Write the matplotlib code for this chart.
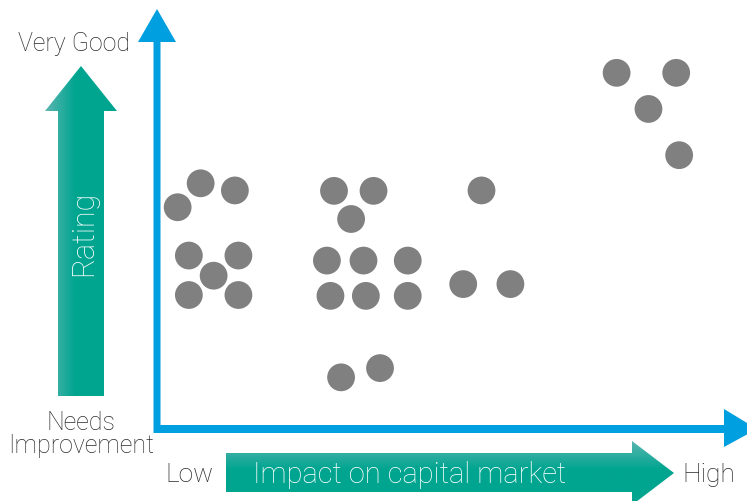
import numpy as np
import matplotlib
matplotlib.use("Agg")
import matplotlib.pyplot as plt
from matplotlib.patches import Polygon
from matplotlib.colors import LinearSegmentedColormap

plt.rcParams['font.family'] = ['Roboto', 'Liberation Sans', 'DejaVu Sans']

# Companies: impact on capital market (x, 0-10) vs rating (y, 0-10)
impact = [0.74, 1.32, 0.35, 0.54, 1.38, 0.96, 0.54, 1.38,
          3.00, 3.67, 3.29, 2.88, 3.50, 4.25, 2.94, 3.54, 4.25,
          3.12, 3.78,
          5.50, 5.19, 5.99,
          7.79, 8.80, 8.33, 8.85]
rating = [5.85, 5.68, 5.28, 4.13, 4.13, 3.65, 3.19, 3.19,
          5.67, 5.67, 5.00, 4.01, 4.01, 4.01, 3.17, 3.17, 3.17,
          1.23, 1.45,
          5.68, 3.45, 3.45,
          8.48, 8.48, 7.62, 6.52]

y_top_label = "Very Good"
y_bottom_label = "Needs\nImprovement"
x_left_label = "Low"
x_right_label = "High"
x_title = "Impact on capital market"
y_title = "Rating"

BLUE = "#009FDF"
TEAL = "#00A590"
TEAL_LIGHT = "#5DB6B1"
TEXT = "#2a2a2a"

W, H = 747, 502
fig = plt.figure(figsize=(W / 100, H / 100), dpi=100)

# Decoration layer in pixel coordinates
deco = fig.add_axes([0, 0, 1, 1])
deco.set_xlim(0, W)
deco.set_ylim(H, 0)
deco.axis('off')


def gradient_arrow(ax, verts, extent, horizontal_grad, stop):
    poly = Polygon(verts, closed=True, facecolor='none', edgecolor='none')
    ax.add_patch(poly)
    cmap = LinearSegmentedColormap.from_list(
        'tealgrad', [(0, TEAL_LIGHT), (stop, TEAL), (1, TEAL)])
    g = np.linspace(0, 1, 256)
    if horizontal_grad:
        img = g[np.newaxis, :]
    else:
        img = g[:, np.newaxis]
    im = ax.imshow(img, cmap=cmap, extent=extent, aspect='auto',
                   origin='upper', interpolation='bilinear', zorder=1)
    im.set_clip_path(poly)


# Vertical "Rating" arrow
v_verts = [(58, 397), (104, 397), (104, 112), (117, 112), (81, 67),
           (45, 112), (58, 112)]
gradient_arrow(deco, v_verts, (45, 117, 397, 67), True, 0.42)

# Horizontal "Impact" arrow
h_verts = [(226, 454), (226, 493), (632, 493), (632, 506), (674, 474),
           (632, 442), (632, 454)]
gradient_arrow(deco, h_verts, (226, 674, 506, 441), False, 0.45)
deco.set_xlim(0, W)
deco.set_ylim(H, 0)

# Blue axes with arrowheads
deco.add_patch(Polygon([(153.5, 43), (160.5, 43), (160.5, 426), (724, 426),
                        (724, 410), (757, 430), (724, 448), (724, 434),
                        (153.5, 434)],
                       closed=True, facecolor=BLUE, edgecolor='none', zorder=2))
deco.add_patch(Polygon([(138, 43), (176, 43), (157, 10)], closed=True,
                       facecolor=BLUE, edgecolor='none', zorder=2))

# Labels
lw = 'light'
deco.text(74, 51, y_top_label, ha='center', va='baseline', fontsize=18,
          color=TEXT, fontweight=lw)
deco.text(81, 453, y_bottom_label, ha='center', va='baseline', fontsize=18,
          color=TEXT, linespacing=0.95, multialignment='center', fontweight=lw)
deco.text(189.5, 482, x_left_label, ha='center', va='baseline', fontsize=19,
          color=TEXT, fontweight=lw)
deco.text(709, 482, x_right_label, ha='center', va='baseline', fontsize=19,
          color=TEXT, fontweight=lw)
deco.text(410, 483, x_title, ha='center', va='baseline', fontsize=21,
          color='white', zorder=3, fontweight=lw)
deco.text(92, 233, y_title, ha='center', va='baseline', rotation=90,
          rotation_mode='anchor', fontsize=22, color='white', zorder=3,
          fontweight=lw)

# Data layer: origin at the corner of the blue axes
ax = fig.add_axes([157 / W, (H - 430) / H, (W - 157) / W, 420 / H])
ax.set_xlim(0, 10)
ax.set_ylim(0, 10)
ax.axis('off')
ax.patch.set_alpha(0)
ax.scatter(impact, rating, s=400, color='#808080', edgecolors='none',
           clip_on=False, zorder=4)

fig.savefig('out.png', dpi=100)
